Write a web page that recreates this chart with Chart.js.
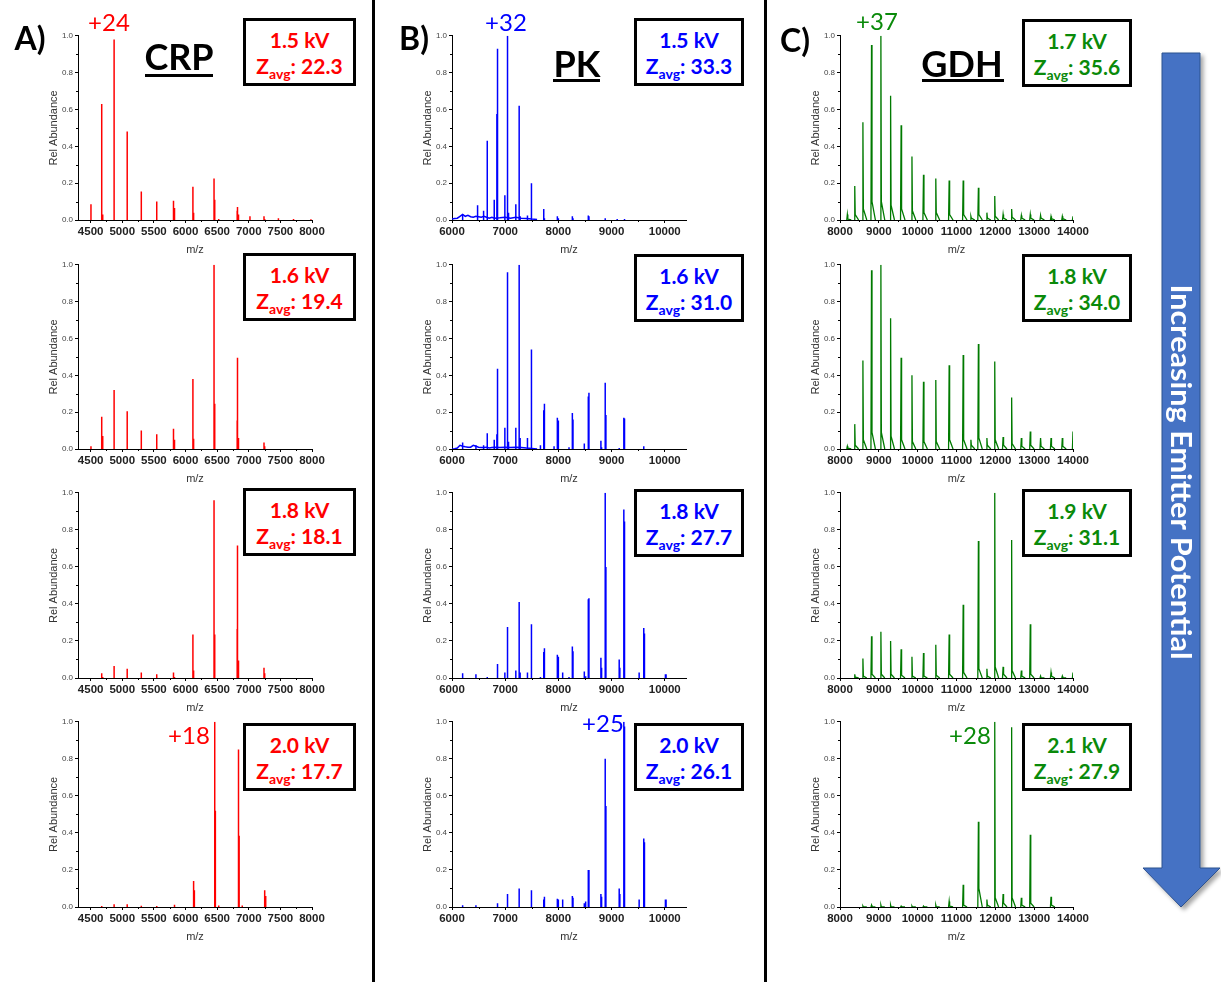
<!DOCTYPE html>
<html><head><meta charset="utf-8">
<script src="https://cdn.jsdelivr.net/npm/chart.js@4.4.1/dist/chart.umd.min.js"></script>
<style>
html,body{margin:0;padding:0;background:#fff}
body{width:1221px;height:982px;position:relative;overflow:hidden;font-family:Lato,'Liberation Sans',sans-serif}
canvas{position:absolute}
.t{position:absolute;white-space:nowrap;line-height:1;transform:translate(-50%,-50%)}
.big{font-weight:700;font-size:32px;color:#000}
.title{font-weight:700;font-size:36px;color:#000}
.ul{position:absolute;height:3px;background:#000}
.chg{font-weight:400;font-size:24px}
.box{position:absolute;height:68px;border:3px solid #000;box-sizing:border-box;background:#fff;font-weight:700;text-align:center}
.box .l{position:absolute;left:0;right:0;font-size:21px;line-height:21px;white-space:nowrap}
.box sub{font-size:14px;vertical-align:-5px;line-height:0}
.sep{position:absolute;top:0;width:3px;height:982px;background:#000}
</style></head>
<body>
<script>
// ---------- DATA ----------
const yTicks = [0, 0.2, 0.4, 0.6, 0.8, 1.0];
const crpTicks = [4500, 5000, 5500, 6000, 6500, 7000, 7500, 8000];
const pkTicks = [6000, 7000, 8000, 9000, 10000];
const gdhTicks = [8000, 9000, 10000, 11000, 12000, 13000, 14000];

// CRP (column A) stick m/z and relative abundances per emitter potential
const crpMz = [4505, 4675, 4691, 4871, 5078, 5301, 5545, 5810, 5826, 6117, 6128, 6140, 6451, 6462, 6472, 6525, 6817, 6822, 6838, 6848, 6897, 7019, 7241, 7252, 7268, 7469, 7708, 7983];
const crp15 = [0.085, 0.63, 0.03, 0.98, 0.48, 0.155, 0.10, 0.105, 0.065, 0.18, 0.04, 0, 0.225, 0.11, 0, 0.005, 0.05, 0.07, 0.03, 0, 0, 0.02, 0.02, 0.005, 0, 0.01, 0.006, 0.004];
const crp16 = [0.015, 0.175, 0.07, 0.32, 0.205, 0.10, 0.08, 0.11, 0.05, 0.38, 0.055, 0, 1.0, 0.245, 0, 0, 0.155, 0.495, 0.06, 0, 0, 0, 0.035, 0.015, 0, 0, 0, 0];
const crp18 = [0, 0.025, 0.005, 0.065, 0.05, 0.03, 0.02, 0.03, 0.005, 0.235, 0.04, 0, 0.96, 0.235, 0, 0, 0.265, 0.715, 0.095, 0, 0, 0, 0.055, 0.025, 0, 0, 0, 0];
const crp20 = [0, 0.005, 0, 0.015, 0.015, 0.007, 0.005, 0, 0.012, 0, 0.14, 0.09, 0, 1.0, 0.52, 0.008, 0, 0, 0.85, 0.385, 0.008, 0, 0, 0.09, 0.06, 0, 0, 0];

// PK (column B)
const pkMz = [6200, 6450, 6481, 6594, 6663, 6794, 6844, 6856, 6994, 7044, 7063, 7200, 7263, 7281, 7419, 7494, 7663, 7725, 7738, 7919, 7981, 8000, 8081, 8200, 8263, 8275, 8488, 8513, 8563, 8575, 8800, 8813, 8881, 8894, 9106, 9144, 9156, 9231, 9244, 9519, 9606, 9619, 10013, 10025];
const pk15 = [0.03, 0, 0.08, 0.05, 0.43, 0.11, 0.575, 0.93, 0.135, 1.0, 0.04, 0.085, 0.62, 0.02, 0.025, 0.2, 0, 0.06, 0.01, 0, 0.02, 0.01, 0, 0, 0.02, 0.01, 0, 0, 0.025, 0.02, 0, 0, 0.01, 0, 0.005, 0, 0, 0, 0.005, 0, 0, 0, 0, 0];
const pk16 = [0.035, 0.02, 0, 0.02, 0.085, 0.05, 0.08, 0.435, 0.115, 0.96, 0.04, 0.115, 1.0, 0.06, 0.06, 0.54, 0.02, 0.21, 0.245, 0.015, 0.17, 0.155, 0, 0.01, 0.195, 0.16, 0.03, 0, 0.285, 0.305, 0.045, 0.01, 0.36, 0.185, 0, 0.005, 0, 0.17, 0.165, 0, 0.015, 0, 0, 0];
const pk18 = [0.025, 0.02, 0, 0, 0.005, 0, 0, 0.075, 0.03, 0.275, 0, 0.04, 0.41, 0.03, 0.03, 0.29, 0.005, 0.14, 0.16, 0, 0.125, 0.115, 0.03, 0.005, 0.17, 0.145, 0.035, 0.01, 0.425, 0.43, 0.11, 0.055, 1.0, 0.6, 0, 0.1, 0.055, 0.91, 0.845, 0.03, 0.27, 0.24, 0.02, 0.02];
const pk20 = [0.01, 0.01, 0, 0, 0, 0, 0, 0.02, 0, 0.07, 0, 0, 0.1, 0, 0, 0.09, 0, 0.04, 0.055, 0, 0.045, 0.04, 0.04, 0, 0.06, 0.05, 0.02, 0.03, 0.2, 0.2, 0.07, 0.055, 0.8, 0.545, 0, 0.1, 0.07, 1.0, 0.975, 0.04, 0.37, 0.35, 0.04, 0.04];
const pkNoiseMz = [6000, 6050, 6100, 6150, 6200, 6250, 6300, 6350, 6400, 6450, 6500, 6550, 6600, 6650, 6700, 6750, 6800, 6900, 7000, 7100, 7200, 7300, 7400, 7500, 7600];
const pkNoise15 = [0.005, 0.008, 0.01, 0.02, 0.03, 0.02, 0.025, 0.018, 0.015, 0.02, 0.018, 0.015, 0.02, 0.015, 0.01, 0.015, 0.01, 0.012, 0.015, 0.01, 0.015, 0.01, 0.008, 0.005, 0.003];
const pkNoise16 = [0, 0.002, 0.005, 0.02, 0.015, 0.012, 0.01, 0.01, 0.02, 0.015, 0.01, 0.008, 0.008, 0.01, 0.005, 0.008, 0.01, 0.008, 0.01, 0.008, 0.01, 0.008, 0.005, 0.003, 0];

// GDH (column C): apex and tail abundances
const gdhMz = [8189, 8380, 8590, 8812, 9053, 9303, 9574, 9853, 10150, 10467, 10811, 11172, 11371, 11564, 11783, 11985, 12200, 12420, 12670, 12900, 13165, 13434, 13725, 14000];
const gdh17 = [0.03, 0.185, 0.53, 0.95, 1.0, 0.675, 0.515, 0.345, 0.245, 0.225, 0.215, 0.215, 0.02, 0.175, 0.04, 0.13, 0.03, 0.06, 0.025, 0.03, 0.025, 0.02, 0.02, 0.02];
const gdhTail17 = [0.005, 0.03, 0.06, 0.1, 0.1, 0.08, 0.06, 0.05, 0.04, 0.04, 0.03, 0.03, 0.01, 0.03, 0.01, 0.02, 0.01, 0.015, 0.01, 0.01, 0.01, 0.008, 0.008, 0.005];
const gdh18 = [0.015, 0.135, 0.48, 0.97, 1.0, 0.71, 0.495, 0.4, 0.365, 0.375, 0.455, 0.51, 0.05, 0.57, 0.06, 0.475, 0.065, 0.28, 0.06, 0.095, 0.06, 0.06, 0.06, 0.095];
const gdhTail18 = [0.005, 0.02, 0.05, 0.09, 0.09, 0.07, 0.05, 0.04, 0.04, 0.04, 0.05, 0.05, 0.02, 0.06, 0.02, 0.05, 0.02, 0.03, 0.015, 0.02, 0.015, 0.015, 0.015, 0.02];
const gdh19 = [0, 0.02, 0.105, 0.225, 0.25, 0.2, 0.155, 0.115, 0.135, 0.18, 0.235, 0.395, 0, 0.74, 0.05, 1.0, 0.06, 0.745, 0.04, 0.29, 0.01, 0.03, 0.01, 0.03];
const gdhTail19 = [0, 0.005, 0.01, 0.02, 0.02, 0.02, 0.015, 0.01, 0.01, 0.015, 0.02, 0.03, 0, 0.05, 0.01, 0.06, 0.02, 0.04, 0.01, 0.02, 0, 0.01, 0, 0.01];
const gdh21 = [0, 0, 0.005, 0.01, 0.01, 0.01, 0.005, 0.005, 0.005, 0.01, 0.03, 0.12, 0, 0.46, 0.04, 1.0, 0.07, 0.97, 0.05, 0.39, 0, 0.055, 0, 0];
const gdhTail21 = [0, 0, 0, 0, 0, 0, 0, 0, 0, 0, 0.005, 0.01, 0, 0.1, 0.01, 0.05, 0.02, 0.05, 0.01, 0.02, 0, 0.01, 0, 0];

const voltages = [['1.5 kV','1.6 kV','1.8 kV','2.0 kV'], ['1.5 kV','1.6 kV','1.8 kV','2.0 kV'], ['1.7 kV','1.8 kV','1.9 kV','2.1 kV']];
const zavg = [['22.3','19.4','18.1','17.7'], ['33.3','31.0','27.7','26.1'], ['35.6','34.0','31.1','27.9']];

// ---------- BUILD ----------
function sticks(mz, ab) {
  const d = [];
  mz.forEach((m, i) => { if (ab[i] > 0) d.push({x: m, y: 0}, {x: m, y: ab[i]}, {x: m, y: null}); });
  return d;
}
function trace(mz, ab) { return mz.map((m, i) => ({x: m, y: ab[i]})); }
function profile(mz, ab, tail) {
  const d = [];
  mz.forEach((m, i) => {
    if (ab[i] > 0) d.push({x: m - 15, y: 0}, {x: m, y: ab[i]}, {x: m + 12, y: tail[i]}, {x: m + 100, y: 0}, {x: m + 100, y: null});
  });
  return d;
}

const COLS = [
  {left: 78, right: 312, min: 4300, max: 8000, ticks: crpTicks, color: '#ff0000', lw: 1.5},
  {left: 452, right: 686, min: 6000, max: 10400, ticks: pkTicks, color: '#0000ff', lw: 1.5},
  {left: 840, right: 1073, min: 8000, max: 14000, ticks: gdhTicks, color: '#007a00', lw: 1.3}
];
const ROWS = [{top: 35, bottom: 220}, {top: 264, bottom: 449}, {top: 492, bottom: 678}, {top: 721, bottom: 907}];

const panelData = [
  [[sticks(crpMz, crp15)], [sticks(crpMz, crp16)], [sticks(crpMz, crp18)], [sticks(crpMz, crp20)]],
  [[trace(pkNoiseMz, pkNoise15), sticks(pkMz, pk15)], [trace(pkNoiseMz, pkNoise16), sticks(pkMz, pk16)], [sticks(pkMz, pk18)], [sticks(pkMz, pk20)]],
  [[profile(gdhMz, gdh17, gdhTail17)], [profile(gdhMz, gdh18, gdhTail18)], [profile(gdhMz, gdh19, gdhTail19)], [profile(gdhMz, gdh21, gdhTail21)]]
];

const minorTicks = {
  id: 'minorTicks',
  afterDraw(chart) {
    const {ctx} = chart, xs = chart.scales.x, ys = chart.scales.y;
    ctx.save(); ctx.strokeStyle = '#000'; ctx.lineWidth = 1;
    const yv = ys.ticks.map(t => t.value);
    for (let i = 0; i < yv.length - 1; i++) {
      const p = Math.round(ys.getPixelForValue((yv[i] + yv[i + 1]) / 2)) + 0.5;
      ctx.beginPath(); ctx.moveTo(xs.left - 2, p); ctx.lineTo(xs.left, p); ctx.stroke();
    }
    const xv = xs.ticks.map(t => t.value);
    for (let i = 0; i < xv.length - 1; i++) {
      const p = Math.round(xs.getPixelForValue((xv[i] + xv[i + 1]) / 2)) + 0.5;
      ctx.beginPath(); ctx.moveTo(p, ys.bottom); ctx.lineTo(p, ys.bottom + 2); ctx.stroke();
    }
    ctx.restore();
  }
};

Chart.defaults.font.family = "'Liberation Sans', Arial, sans-serif";
const PT = 6, PR = 22, YW = 40, XH = 40;

COLS.forEach((col, c) => {
  ROWS.forEach((row, r) => {
    const cv = document.createElement('canvas');
    const w = (col.right - col.left) + YW + PR, h = (row.bottom - row.top) + PT + XH;
    cv.width = w; cv.height = h;
    cv.style.left = (col.left - YW) + 'px'; cv.style.top = (row.top - PT) + 'px';
    cv.style.width = w + 'px'; cv.style.height = h + 'px';
    document.body.appendChild(cv);
    new Chart(cv, {
      type: 'line',
      data: {datasets: panelData[c][r].map(d => ({data: d, borderColor: col.color, borderWidth: col.lw, pointRadius: 0, tension: 0, spanGaps: false, fill: false}))},
      options: {
        responsive: false, animation: false, devicePixelRatio: 1, events: [],
        layout: {padding: {left: 0, top: PT, right: PR, bottom: 0}},
        plugins: {legend: {display: false}, tooltip: {enabled: false}},
        scales: {
          x: {
            type: 'linear', min: col.min, max: col.max,
            afterBuildTicks: s => { s.ticks = col.ticks.map(v => ({value: v})); },
            afterFit: s => { s.height = XH; },
            ticks: {autoSkip: false, maxRotation: 0, padding: 2, color: '#222', font: {size: 11.5, weight: 'bold'}, callback: v => String(v)},
            grid: {display: true, drawOnChartArea: false, drawTicks: true, tickLength: 3, color: '#000'},
            border: {display: true, color: '#000', width: 1},
            title: {display: true, text: 'm/z', color: '#333', font: {size: 11}, padding: {top: 0, bottom: 3}}
          },
          y: {
            type: 'linear', min: 0, max: 1,
            afterBuildTicks: s => { s.ticks = yTicks.map(v => ({value: v})); },
            afterFit: s => { s.width = YW; },
            ticks: {padding: 2, color: '#444', font: {size: 8}, callback: v => Number(v).toFixed(1)},
            grid: {display: true, drawOnChartArea: false, drawTicks: true, tickLength: 3, color: '#000'},
            border: {display: true, color: '#000', width: 1},
            title: {display: true, text: 'Rel Abundance', color: '#333', font: {size: 11}, padding: {top: 9, bottom: 0}}
          }
        }
      },
      plugins: [minorTicks]
    });
  });
});

// ---------- TEXT OVERLAYS ----------
function el(html) { document.body.insertAdjacentHTML('beforeend', html); }
const textColors = ['#ff0000', '#0000ff', '#0a8a0a'];
const boxLeft = [243, 634, 1022], boxW = [113, 110, 110];
const boxTop = [[18, 253, 488, 723], [18, 254, 489, 723], [19, 254, 489, 723]];
COLS.forEach((col, c) => {
  for (let r = 0; r < 4; r++) {
    el(`<div class="box" style="left:${boxLeft[c]}px;top:${boxTop[c][r]}px;width:${boxW[c]}px;color:${textColors[c]}">` +
       `<div class="l" style="top:8px">${voltages[c][r]}</div>` +
       `<div class="l" style="top:34px">Z<sub>avg</sub>: ${zavg[c][r]}</div></div>`);
  }
});
</script>

<div class="sep" style="left:372px"></div>
<div class="sep" style="left:764px"></div>

<div class="t big" style="left:30px;top:38px">A)</div>
<div class="t big" style="left:414px;top:38px">B)</div>
<div class="t big" style="left:795px;top:40px">C)</div>

<div class="t title" style="left:179px;top:56px">CRP</div>
<div class="ul" style="left:145px;top:74px;width:68px"></div>
<div class="t title" style="left:577px;top:63px">PK</div>
<div class="ul" style="left:553px;top:79px;width:47px"></div>
<div class="t title" style="left:962px;top:63px">GDH</div>
<div class="ul" style="left:922px;top:79px;width:82px"></div>

<div class="t chg" style="left:109px;top:22px;color:#ff0000">+24</div>
<div class="t chg" style="left:506px;top:22px;color:#0000ff">+32</div>
<div class="t chg" style="left:877px;top:21px;color:#0a8a0a">+37</div>
<div class="t chg" style="left:189px;top:735px;color:#ff0000">+18</div>
<div class="t chg" style="left:603px;top:723px;color:#0000ff">+25</div>
<div class="t chg" style="left:970px;top:735px;color:#0a8a0a">+28</div>

<svg style="position:absolute;left:0;top:0" width="1221" height="982">
  <defs><filter id="sh" x="-20%" y="-5%" width="150%" height="110%"><feDropShadow dx="3" dy="3" stdDeviation="2" flood-color="#000" flood-opacity="0.35"/></filter></defs>
  <polygon points="1162,53 1200,53 1200,868 1220,868 1181,907 1143,868 1162,868" fill="#4472c4" stroke="#2f528f" stroke-width="1" filter="url(#sh)"/>
  <text transform="translate(1182,472) rotate(90)" text-anchor="middle" dominant-baseline="central" fill="#fff" font-family="Lato" font-weight="700" font-size="29" textLength="375" lengthAdjust="spacingAndGlyphs">Increasing Emitter Potential</text>
</svg>
</body></html>
